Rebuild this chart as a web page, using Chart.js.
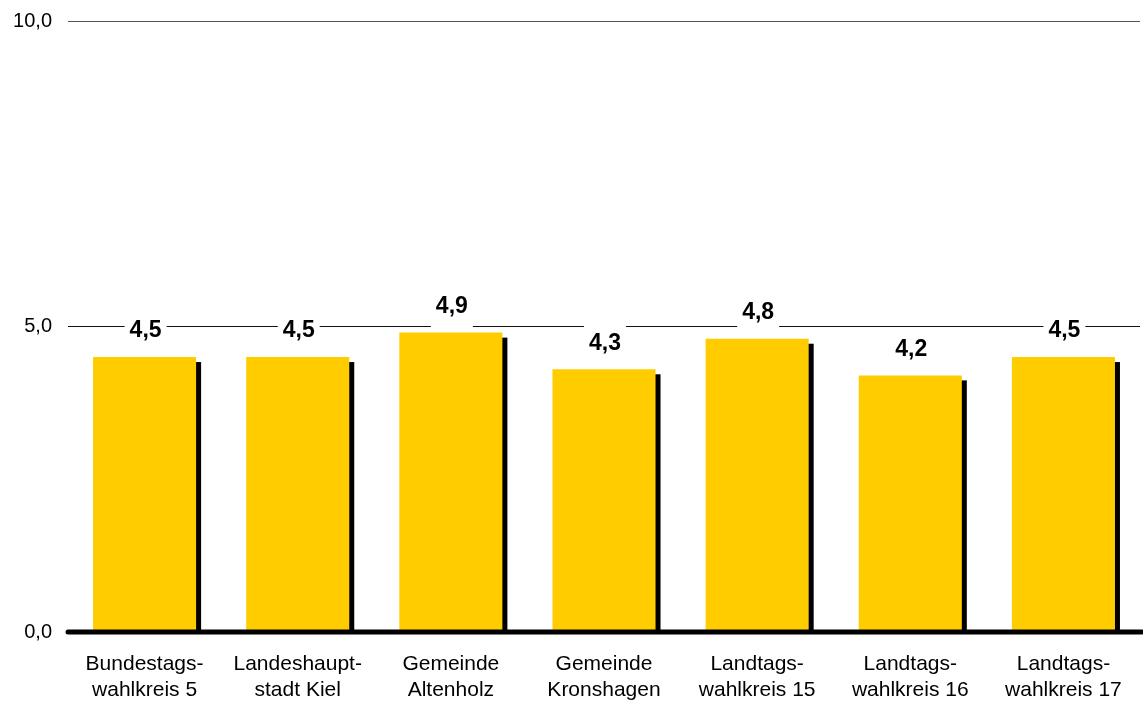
<!DOCTYPE html>
<html>
<head>
<meta charset="utf-8">
<script src="https://cdn.jsdelivr.net/npm/chart.js@4/dist/chart.umd.min.js"></script>
<style>
  html, body { margin: 0; padding: 0; background: #fff; }
  #wrap { width: 1143px; height: 702px; }
</style>
</head>
<body>
<div id="wrap"><canvas id="c"></canvas></div>
<script>
var labels = [
  ['Bundestags-', 'wahlkreis 5'],
  ['Landeshaupt-', 'stadt Kiel'],
  ['Gemeinde', 'Altenholz'],
  ['Gemeinde', 'Kronshagen'],
  ['Landtags-', 'wahlkreis 15'],
  ['Landtags-', 'wahlkreis 16'],
  ['Landtags-', 'wahlkreis 17']
];
var values = [4.5, 4.5, 4.9, 4.3, 4.8, 4.2, 4.5];
var yTicks = [0, 5, 10];

var barColor = '#FFCC00';
var fontFam = '"Liberation Sans", Arial, sans-serif';

// black drop shadow on the right of each bar
var shadowPlugin = {
  id: 'shadow',
  beforeDatasetsDraw: function(chart) {
    var ctx = chart.ctx;
    var meta = chart.getDatasetMeta(0);
    ctx.save();
    ctx.fillStyle = '#000';
    meta.data.forEach(function(bar) {
      var w = bar.width;
      ctx.fillRect(bar.x - w / 2 + 5, bar.y + 5, w, bar.base - bar.y - 5);
    });
    ctx.restore();
  },
  afterDatasetsDraw: function(chart) {
    var ctx = chart.ctx;
    var y0 = chart.scales.y.getPixelForValue(0);
    // thick zero line
    ctx.save();
    ctx.strokeStyle = '#000';
    ctx.lineWidth = 5;
    ctx.lineCap = 'round';
    ctx.beginPath();
    ctx.moveTo(chart.chartArea.left, y0);
    ctx.lineTo(chart.chartArea.right + 2, y0);
    ctx.stroke();

    // value labels with white box
    var meta = chart.getDatasetMeta(0);
    ctx.font = 'bold 23px ' + fontFam;
    ctx.textAlign = 'center';
    ctx.textBaseline = 'middle';
    meta.data.forEach(function(bar, i) {
      var txt = values[i].toFixed(1).replace('.', ',');
      var ty = bar.y - 26;
      var tw = ctx.measureText(txt).width;
      ctx.fillStyle = '#fff';
      ctx.fillRect(bar.x + 1 - tw / 2 - 5, ty - 21, tw + 10, 42);
      ctx.fillStyle = '#000';
      ctx.fillText(txt, bar.x + 1, ty);
    });
    ctx.restore();
  }
};

new Chart(document.getElementById('c'), {
  type: 'bar',
  data: {
    labels: labels,
    datasets: [{
      data: values,
      backgroundColor: barColor,
      borderWidth: 0,
      barPercentage: 0.673,
      categoryPercentage: 1
    }]
  },
  options: {
    responsive: true,
    maintainAspectRatio: false,
    animation: false,
    layout: { padding: { top: 21, right: 3, left: 0, bottom: 0 } },
    plugins: { legend: { display: false }, tooltip: { enabled: false } },
    scales: {
      x: {
        grid: { display: false, drawTicks: false },
        border: { display: false },
        ticks: {
          color: '#000',
          padding: 19,
          maxRotation: 0,
          font: { family: fontFam, size: 21, lineHeight: 1.24 }
        },
        afterFit: function(s) { s.height = 70; }
      },
      y: {
        min: 0,
        max: 10,
        afterBuildTicks: function(s) {
          s.ticks = yTicks.map(function(v) { return { value: v }; });
        },
        grid: {
          drawTicks: false,
          color: function(c) { return c.tick.value === 10 ? '#555' : '#111'; },
          lineWidth: function(c) { return c.tick.value === 0 ? 0 : 1; }
        },
        border: { display: false },
        ticks: {
          color: '#000',
          padding: 16,
          font: { family: fontFam, size: 20 },
          callback: function(v) { return v.toFixed(1).replace('.', ','); }
        },
        afterFit: function(s) {
          s.width = 68;
          s.paddingTop = 0;
          s.paddingBottom = 0;
        }
      }
    }
  },
  plugins: [shadowPlugin]
});
</script>
</body>
</html>
